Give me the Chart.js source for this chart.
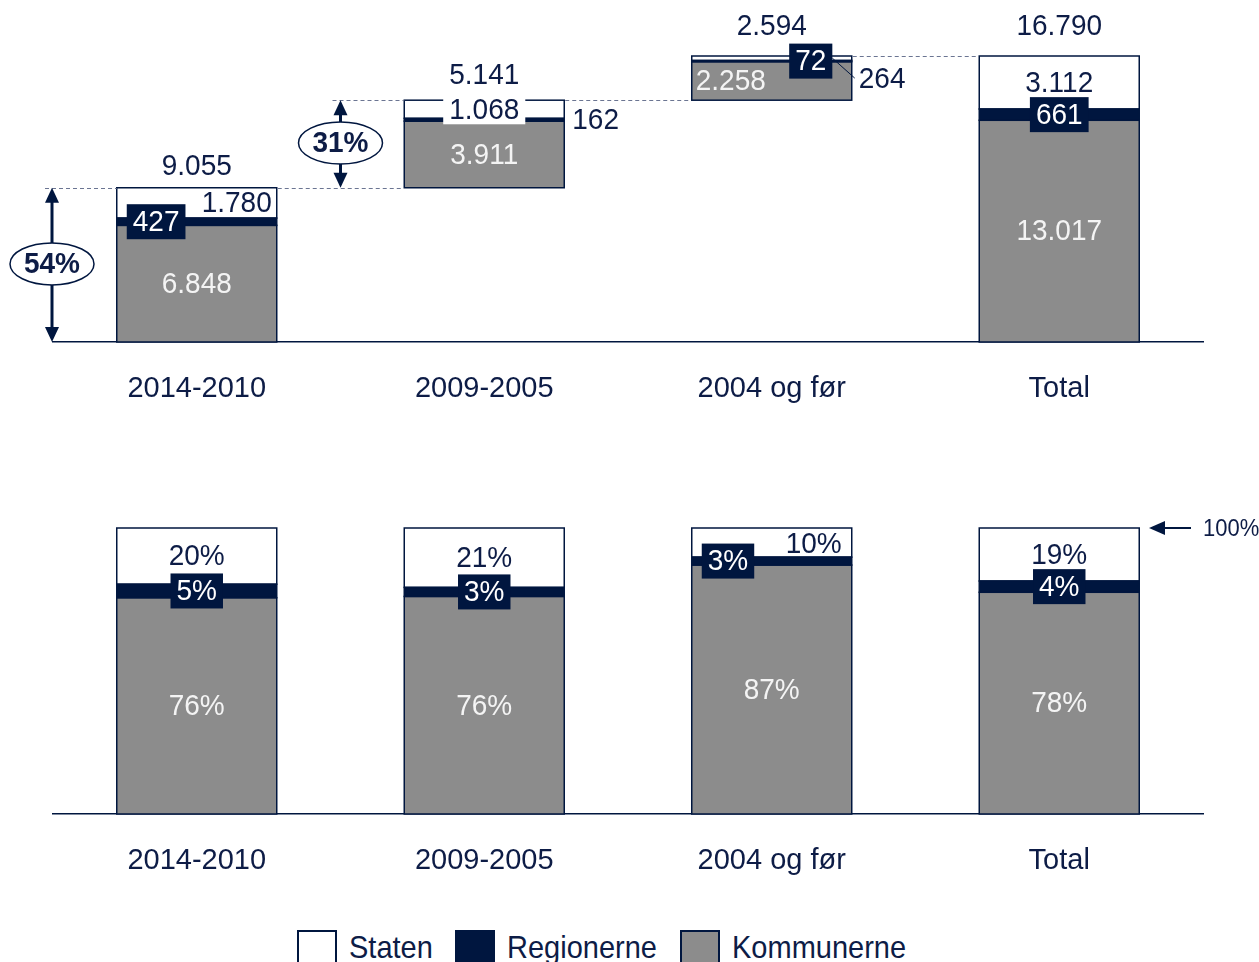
<!DOCTYPE html>
<html lang="da">
<head>
<meta charset="utf-8">
<title>Fordeling på Staten, Regionerne og Kommunerne</title>
<script src="https://cdn.jsdelivr.net/npm/chart.js@4.4.1/dist/chart.umd.min.js"></script>
<style>
  body { margin: 0; background: #fff; width: 1259px; height: 962px; overflow: hidden; position: relative;
         font-family: "Liberation Sans", Arial, sans-serif; color: #0d1c46; }
  canvas { position: absolute; left: 0; }
  #beloeb { top: 0; }
  #andele { top: 450px; }
  .felt { position: absolute; top: 930px; width: 40px; height: 34px; box-sizing: border-box; border: 2px solid #00163f; }
  .navn { position: absolute; top: 929px; font-size: 29px; line-height: 36px; white-space: nowrap; transform: scaleY(1.08); }
</style>
</head>
<body>
<canvas id="beloeb" width="1259" height="410"></canvas>
<canvas id="andele" width="1259" height="432"></canvas>

<span class="felt" style="left:297px; background:#fff"></span><span class="navn" style="left:349px">Staten</span>
<span class="felt" style="left:455px; background:#00163f"></span><span class="navn" style="left:507px">Regionerne</span>
<span class="felt" style="left:680px; background:#8c8c8c"></span><span class="navn" style="left:732px">Kommunerne</span>

<script>
const kategorier = ["2014-2010", "2009-2005", "2004 og før", "Total"];
const kommunerne = [6848, 3911, 2258, 13017];
const regionerne = [427, 162, 72, 661];
const staten = [1780, 1068, 264, 3112];

const NAVY = "#00163f";
const TEKST = "#0d1c46";
const GRAA = "#8c8c8c";
const LYS = "#f4f4f4";
const FAMILIE = '"Liberation Sans", Arial, sans-serif';

const fmt = (n) => String(n).replace(/\B(?=(\d{3})+(?!\d))/g, ".");
const pct = (v) => Math.round(v) + "%";

// summer pr. kolonne og startpunkt for vandfaldet (Total starter ved 0)
const totaler = kategorier.map((_, i) => kommunerne[i] + regionerne[i] + staten[i]);
const start = [];
let loebende = 0;
totaler.forEach((t, i) => {
    if (i === totaler.length - 1) {
        start.push(0);
    } else {
        start.push(loebende);
        loebende += t;
    }
});
const kommTil = start.map((s, i) => s + kommunerne[i]);
const regTil = kommTil.map((s, i) => s + regionerne[i]);
const statTil = regTil.map((s, i) => s + staten[i]);
const spaend = (fra, til) => fra.map((f, i) => [f, til[i]]);

const andel = (arr) => arr.map((v, i) => (v / totaler[i]) * 100);
const kommAndel = andel(kommunerne);
const regAndel = andel(regionerne);
const statAndel = andel(staten);

// --- tegnehjælpere ---
const STRAEK = 1.08;

function skriv(ctx, s, x, y, o = {}) {
    ctx.save();
    ctx.font = o.font || `28px ${FAMILIE}`;
    ctx.textAlign = o.align || "center";
    ctx.textBaseline = "middle";
    if (o.baggrund) {
        const w = ctx.measureText(s).width + 12;
        const l = o.align === "left" ? x : o.align === "right" ? x - w : x - w / 2;
        ctx.fillStyle = o.baggrund;
        ctx.fillRect(l, y - 15, w, 30);
    }
    ctx.fillStyle = o.farve || TEKST;
    ctx.translate(x, y + 1);
    ctx.scale(1, STRAEK);
    ctx.fillText(s, 0, 0);
    ctx.restore();
}

function boks(ctx, s, x, y, align) {
    ctx.save();
    ctx.font = `28px ${FAMILIE}`;
    const w = ctx.measureText(s).width + 12;
    const h = 35;
    const l = align === "left" ? x : x - w / 2;
    ctx.fillStyle = NAVY;
    ctx.fillRect(l, y - h / 2, w, h);
    ctx.restore();
    skriv(ctx, s, l + w / 2, y, { farve: "#fff" });
    return { left: l, right: l + w, top: y - h / 2 };
}

function stiplet(ctx, x1, x2, y) {
    ctx.save();
    ctx.strokeStyle = "#6b7592";
    ctx.lineWidth = 1;
    ctx.setLineDash([4, 3]);
    ctx.beginPath();
    ctx.moveTo(x1, Math.round(y) + 0.5);
    ctx.lineTo(x2, Math.round(y) + 0.5);
    ctx.stroke();
    ctx.restore();
}

function pilehoved(ctx, x, y, retning, laengde, halv) {
    ctx.beginPath();
    if (retning === "op") {
        ctx.moveTo(x, y); ctx.lineTo(x - halv, y + laengde); ctx.lineTo(x + halv, y + laengde);
    } else if (retning === "ned") {
        ctx.moveTo(x, y); ctx.lineTo(x - halv, y - laengde); ctx.lineTo(x + halv, y - laengde);
    } else {
        ctx.moveTo(x, y); ctx.lineTo(x + laengde, y - halv); ctx.lineTo(x + laengde, y + halv);
    }
    ctx.closePath();
    ctx.fill();
}

function dobbeltPil(ctx, x, yTop, yBund, tekst) {
    ctx.save();
    ctx.fillStyle = NAVY;
    ctx.strokeStyle = NAVY;
    ctx.lineWidth = 3;
    ctx.beginPath();
    ctx.moveTo(x, yTop + 10);
    ctx.lineTo(x, yBund - 10);
    ctx.stroke();
    pilehoved(ctx, x, yTop, "op", 15, 7);
    pilehoved(ctx, x, yBund, "ned", 15, 7);
    const cy = (yTop + yBund) / 2 - 1;
    ctx.beginPath();
    ctx.ellipse(x, cy, 42, 21, 0, 0, Math.PI * 2);
    ctx.fillStyle = "#fff";
    ctx.fill();
    ctx.lineWidth = 1.5;
    ctx.stroke();
    ctx.restore();
    skriv(ctx, tekst, x, cy, { font: `bold 28px ${FAMILIE}` });
}

function soejle(chart, i) {
    const el = chart.getDatasetMeta(0).data[i];
    return { x: el.x, l: el.x - el.width / 2, r: el.x + el.width / 2 };
}

// navy kant rundt om hvert segment, så båndet for Regionerne står tæt
const kanter = {
    id: "kanter",
    afterDatasetsDraw(chart) {
        const ctx = chart.ctx;
        ctx.save();
        ctx.strokeStyle = NAVY;
        ctx.lineWidth = 1.5;
        chart.data.datasets.forEach((_, d) => {
            chart.getDatasetMeta(d).data.forEach((el) => {
                const top = Math.min(el.y, el.base);
                ctx.strokeRect(el.x - el.width / 2, top, el.width, Math.abs(el.base - el.y));
            });
        });
        ctx.restore();
    },
};

// placering af etiketter pr. kolonne
const topPlacering = [
    { sum: 22, stat: "hoejre", reg: "venstre", komm: "midt" },
    { sum: 26, stat: "hvid", reg: "udenfor", komm: "midt" },
    { sum: 30, stat: "streg", reg: "forskudt", komm: "venstre" },
    { sum: 30, stat: "midt", reg: "midt", komm: "midt" },
];
const bundPlacering = [
    { stat: "midt", reg: "midt" },
    { stat: "midt", reg: "midt" },
    { stat: "hoejre", reg: "venstre" },
    { stat: "midt", reg: "midt" },
];

const vandfaldEtiketter = {
    id: "vandfaldEtiketter",
    afterDraw(chart) {
        const ctx = chart.ctx;
        const ys = chart.scales.y;
        const py = (v) => ys.getPixelForValue(v);
        const s = kategorier.map((_, i) => soejle(chart, i));
        const area = chart.chartArea;

        // stiplede forbindelser mellem søjlerne
        const pil2x = (s[0].r + s[1].l) / 2;
        stiplet(ctx, area.left - 8, s[0].l, py(statTil[0]));
        stiplet(ctx, pil2x - 8, s[1].l, py(statTil[1]));
        for (let i = 0; i < s.length - 1; i++) stiplet(ctx, s[i].r + 1, s[i + 1].l - 1, py(statTil[i]));

        // andel af total
        const grand = totaler[totaler.length - 1];
        dobbeltPil(ctx, area.left - 1, py(statTil[0]), py(start[0]), pct((totaler[0] / grand) * 100));
        dobbeltPil(ctx, pil2x, py(statTil[1]), py(start[1]), pct((totaler[1] / grand) * 100));

        kategorier.forEach((_, i) => {
            const p = topPlacering[i];
            const b = s[i];
            const kommY = py((start[i] + kommTil[i]) / 2);
            const regY = py((kommTil[i] + regTil[i]) / 2);
            const statY = py((regTil[i] + statTil[i]) / 2);

            skriv(ctx, fmt(totaler[i]), b.x, py(statTil[i]) - p.sum);

            if (p.komm === "venstre") skriv(ctx, fmt(kommunerne[i]), b.l + 4, kommY, { farve: LYS, align: "left" });
            else skriv(ctx, fmt(kommunerne[i]), b.x, kommY, { farve: LYS });

            let regBoks = null;
            if (p.reg === "venstre") regBoks = boks(ctx, fmt(regionerne[i]), b.l + 10, regY, "left");
            else if (p.reg === "forskudt") regBoks = boks(ctx, fmt(regionerne[i]), b.x + 39, regY);
            else if (p.reg === "udenfor") skriv(ctx, fmt(regionerne[i]), b.r + 8, regY, { align: "left" });
            else regBoks = boks(ctx, fmt(regionerne[i]), b.x, regY);

            if (p.stat === "hoejre") {
                skriv(ctx, fmt(staten[i]), b.r - 5, statY, { align: "right" });
            } else if (p.stat === "hvid") {
                skriv(ctx, fmt(staten[i]), b.x, statY, { baggrund: "#fff" });
            } else if (p.stat === "streg") {
                const ty = regY + 18;
                ctx.save();
                ctx.strokeStyle = NAVY;
                ctx.lineWidth = 1;
                ctx.beginPath();
                ctx.moveTo(regBoks.right, regY - 3);
                ctx.lineTo(b.r + 3, ty - 1);
                ctx.stroke();
                ctx.restore();
                skriv(ctx, fmt(staten[i]), b.r + 7, ty, { align: "left" });
            } else {
                skriv(ctx, fmt(staten[i]), b.x, statY);
            }
        });
    },
};

const andelEtiketter = {
    id: "andelEtiketter",
    afterDraw(chart) {
        const ctx = chart.ctx;
        const ys = chart.scales.y;
        const py = (v) => ys.getPixelForValue(v);
        kategorier.forEach((_, i) => {
            const p = bundPlacering[i];
            const b = soejle(chart, i);
            const k = kommAndel[i], r = regAndel[i], st = statAndel[i];
            skriv(ctx, pct(k), b.x, py(k / 2), { farve: LYS });
            if (p.reg === "venstre") boks(ctx, pct(r), b.l + 10, py(k + r / 2), "left");
            else boks(ctx, pct(r), b.x, py(k + r / 2));
            if (p.stat === "hoejre") skriv(ctx, pct(st), b.r - 10, py(k + r + st / 2) + 1, { align: "right" });
            else skriv(ctx, pct(st), b.x, py(k + r + st / 2));
        });

        // markering af 100 %
        const y100 = py(100);
        ctx.save();
        ctx.fillStyle = NAVY;
        ctx.strokeStyle = NAVY;
        ctx.lineWidth = 2;
        ctx.beginPath();
        ctx.moveTo(1160, y100);
        ctx.lineTo(1191, y100);
        ctx.stroke();
        pilehoved(ctx, 1149, y100, "venstre", 16, 7);
        ctx.restore();
        skriv(ctx, "100%", 1203, y100, { font: `22px ${FAMILIE}`, align: "left" });
    },
};

const soejleStil = {
    borderWidth: 0,
    barPercentage: 0.5565,
    categoryPercentage: 1,
    clip: false,
};

const xAkse = {
    stacked: true,
    grid: { display: false, drawTicks: false },
    border: { display: true, color: NAVY, width: 1.5 },
    ticks: { color: TEKST, font: { family: FAMILIE, size: 29 }, padding: 30, maxRotation: 0 },
    afterFit: (scale) => { scale.height = 68; },
};

const fjernHjaelp = { legend: { display: false }, tooltip: { enabled: false } };

new Chart(document.getElementById("beloeb"), {
    type: "bar",
    data: {
        labels: kategorier,
        datasets: [
            { label: "Staten", data: spaend(regTil, statTil), backgroundColor: "#fff", ...soejleStil },
            { label: "Regionerne", data: spaend(kommTil, regTil), backgroundColor: NAVY, ...soejleStil },
            { label: "Kommunerne", data: spaend(start, kommTil), backgroundColor: GRAA, ...soejleStil },
        ],
    },
    options: {
        responsive: false,
        animation: false,
        layout: { padding: { left: 53, right: 56, top: 56, bottom: 0 } },
        plugins: fjernHjaelp,
        scales: {
            x: xAkse,
            y: { display: false, stacked: false, min: 0, max: totaler[totaler.length - 1] },
        },
    },
    plugins: [kanter, vandfaldEtiketter],
});

new Chart(document.getElementById("andele"), {
    type: "bar",
    data: {
        labels: kategorier,
        datasets: [
            { label: "Kommunerne", data: kommAndel, backgroundColor: GRAA, ...soejleStil },
            { label: "Regionerne", data: regAndel, backgroundColor: NAVY, ...soejleStil },
            { label: "Staten", data: statAndel, backgroundColor: "#fff", ...soejleStil },
        ],
    },
    options: {
        responsive: false,
        animation: false,
        layout: { padding: { left: 53, right: 56, top: 78, bottom: 0 } },
        plugins: fjernHjaelp,
        scales: {
            x: xAkse,
            y: { display: false, stacked: true, min: 0, max: 100 },
        },
    },
    plugins: [kanter, andelEtiketter],
});
</script>
</body>
</html>
